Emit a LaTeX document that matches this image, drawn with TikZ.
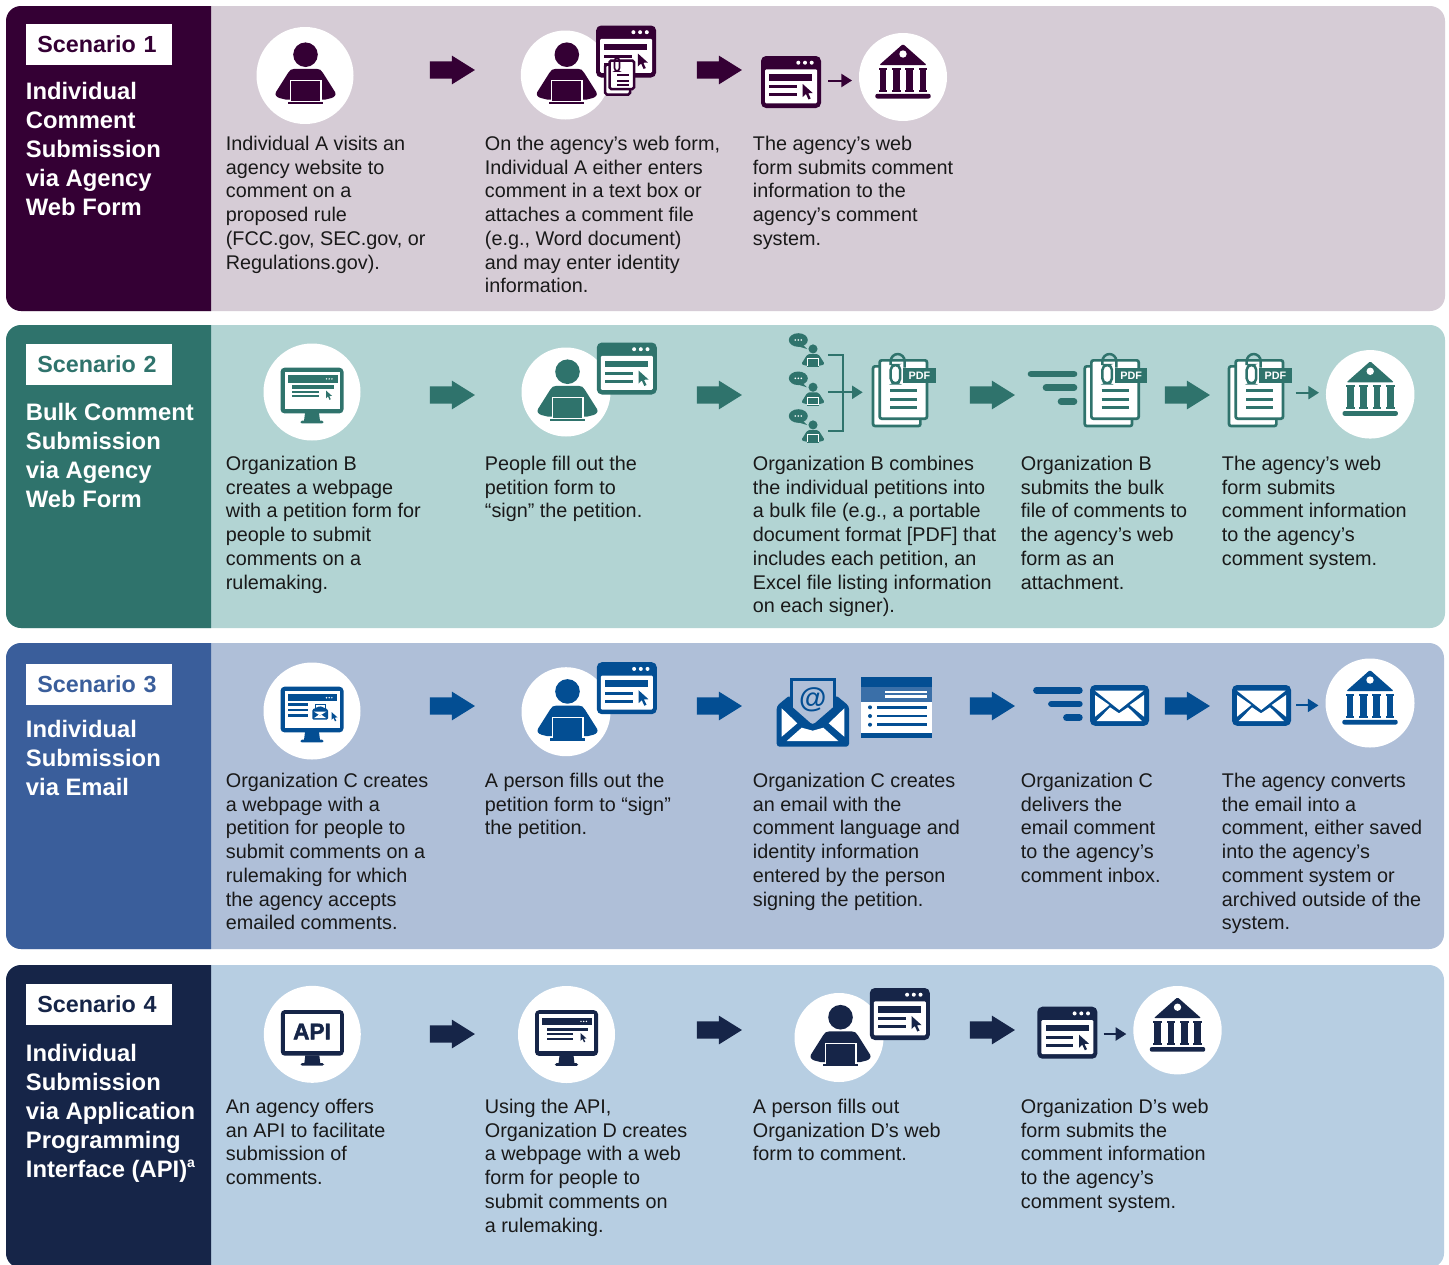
\documentclass[tikz,border=0pt]{standalone}
\usepackage{fontspec}
\setmainfont{Liberation Sans}
\newfontfamily\apifont[BoldFeatures={FakeBold=2}]{Liberation Sans}
\usetikzlibrary{shapes.arrows,arrows.meta,calc}
\definecolor{dA}{HTML}{340034}\definecolor{lA}{HTML}{D6CCD6}
\definecolor{dB}{HTML}{2F736C}\definecolor{lB}{HTML}{B2D4D3}
\definecolor{dC}{HTML}{3A5E9B}\definecolor{iC}{HTML}{034E93}\definecolor{lC}{HTML}{AFBFD8}\definecolor{mC}{HTML}{3A6FA8}
\definecolor{dD}{HTML}{162548}\definecolor{lD}{HTML}{B7CEE2}
\colorlet{ic}{dA}
\tikzset{
 bodytxt/.style={anchor=north west,inner sep=0pt,align=left,font=\fontsize{9.9}{11.87}\selectfont,text=black!90},
 titletxt/.style={anchor=north west,inner sep=0pt,align=left,text=white,font=\fontsize{11.9}{14.5}\selectfont\bfseries},
 labelbox/.style={anchor=west,fill=white,minimum width=73pt,minimum height=20.5pt,inner xsep=5.5pt,inner ysep=0pt,text width=62pt,align=left,font=\fontsize{11.65}{12}\selectfont\bfseries},
 bigarrow/.style={single arrow,fill=ic,inner sep=0pt,text height=8.25pt,text depth=0pt,text width=0pt,minimum height=22.5pt,single arrow head extend=2.875pt,single arrow tip angle=64,single arrow head indent=0pt,xshift=-3.5pt},
 iconbg/.style={circle,fill=white,inner sep=0pt,minimum size={#1*0.5pt}},
 winframe/.style={rectangle,fill=ic,rounded corners=2.5pt,minimum width=30pt,minimum height=26pt,inner sep=0pt},
 envframe/.style={rectangle,fill=ic,rounded corners=2.5pt,minimum width=29.5pt,minimum height=20.4pt,inner sep=0pt},
 pagebox/.style={rectangle,draw=ic,fill=white,line width=1.35pt,rounded corners=1pt,minimum width=23.65pt,minimum height=29.15pt,inner sep=0pt},
 pdftxt/.style={rectangle,fill=ic,text=white,inner sep=0pt,minimum width=16.2pt,minimum height=7.8pt,font=\fontsize{5.4}{6}\selectfont\bfseries},
 smallarrow/.style={draw=ic,line width=1pt,-{Triangle[length=5.3pt,width=6.5pt]}},
 speedln/.style={ic,line width=3.3pt,line cap=round},
}
\newcommand\bodytext[4]{\node[bodytxt] (#1) at (#2-.5,#3-9) {\rule{0pt}{8pt}#4};}
\newcommand\titletext[4]{\node[titletxt] (#1) at (#2-.5,#3-9.5) {\rule{0pt}{9pt}#4};}
\newcommand\cursorat[3]{\fill[ic,shift={(#1,#2)},scale=#3] (0,0)--(0,13)--(3.3,10)--(5.8,15.5)--(8,14.5)--(5.5,9.3)--(10,9)--cycle;}
\newcommand\personic[3][1]{\begin{scope}[shift={(#2,#3)},scale=#1]
 \fill[ic] (0,-21.3) circle (12.3);
 \fill[ic] (-11,-7.2)--(11,-7.2) .. controls (14,-7.2) and (16,-6) .. (17.5,-3)--(29.5,16) .. controls (31,19) and (29,21) .. (26,22)--(20,23.5)--(-20,23.5)--(-26,22) .. controls (-29,21) and (-31,19) .. (-29.5,16)--(-17.5,-3) .. controls (-16,-6) and (-14,-7.2) .. (-11,-7.2)--cycle;
 \filldraw[fill=ic,draw=white,line width={#1*0.7pt}] (-15.3,4.7) rectangle (15.3,26);
 \fill[ic] (-17.5,25.7) rectangle (17.5,27.9);
\end{scope}}
\newcommand\windowic[4]{% name, left, top
 \node[winframe] (#1) at (#2+30,#3+26) {};
 \begin{scope}[shift={(#2,#3)}]
  \fill[white,rounded corners=.6pt] (4,13.3) rectangle (56,47.3);
  \foreach \dx in {37.3,44,50.7} \fill[white] (\dx,6.7) circle (2);
  \fill[ic] (8.3,18) rectangle (51.3,24.7);
  \fill[ic] (8.3,29.3) rectangle (36,32.3);
  \fill[ic] (8.3,37.3) rectangle (36,40.3);
  \cursorat{41.7}{28}{1}
 \end{scope}}
\newcommand\personwin[3]{% name,cx,cy
 \node[iconbg=89] (#1c) at (#2,#3) {};
 \personic{#2+1.5}{#3+1}
 \windowic{#1w}{#2+30.8}{#3-49.5}{}}
\newcommand\bankic[4]{% name,cx,cy,d
 \node[iconbg=#4] (#1) at (#2,#3) {};
 \begin{scope}[shift={(#2,#3)}]
  \fill[ic,rounded corners=.6pt] (0,-33)--(23.7,-12)--(-23.7,-12)--cycle;
  \fill[white] (0,-23) circle (3.7);
  \foreach \cxx in {-20,-6.7,6.7,20} {\fill[ic] (\cxx-3.3,-8)--(\cxx+3.3,-8)--(\cxx+3.3,14)--(\cxx-3.3,14)--cycle;
   \fill[ic] (\cxx-4.3,-9.5) rectangle (\cxx+4.3,-7.5);\fill[ic] (\cxx-4.3,12.5) rectangle (\cxx+4.3,14.5);}
  \fill[ic,rounded corners=1pt] (-27.7,16.8) rectangle (27.7,21.5);
 \end{scope}}
\newcommand\monitorbase[2]{\begin{scope}[shift={(#1,#2)}]
  \fill[ic,rounded corners=2pt] (-31.5,-24.3) rectangle (31.5,21.4);
  \fill[white] (-27.5,-20.3) rectangle (27.5,16.7);
  \fill[ic] (-7,21)--(7,21)--(8,29)--(-8,29)--cycle;
  \fill[ic,rounded corners=.8pt] (-11.7,28.7) rectangle (11.7,31.4);
 \end{scope}}
\newcommand\monitorpage[3]{% name,cx,cy
 \node[iconbg=97] (#1) at (#2,#3) {};
 \monitorbase{#2}{#3}
 \begin{scope}[shift={(#2,#3)}]
  \fill[ic] (-24.5,-16.8) rectangle (25.5,-9.5);
  \foreach \dx in {14.5,17.2,19.9} \fill[white] (\dx,-13.1) circle (.8);
  \fill[ic] (-20,-6.8) rectangle (21.5,-3.5);
  \fill[ic] (-20,-1.5) rectangle (6.5,.5);
  \fill[ic] (-20,3.2) rectangle (6.5,5);
  \cursorat{14}{-1.5}{.6}
 \end{scope}}
\newcommand\envelopeic[3]{% name,x,y
 \node[envframe] (#1) at (#2+29.5,#3+20.4) {};
 \begin{scope}[shift={(#2,#3)}]
  \fill[white] (5,5.7)--(53.5,5.7)--(29.2,25)--cycle;
  \fill[white] (5,10)--(5,31.7)--(19.3,20)--cycle;
  \fill[white] (54,10)--(54,31.7)--(39.7,20)--cycle;
  \fill[white] (6.7,36)--(20,22.3)--(29,28.3)--(38,22.3)--(52,36)--cycle;
 \end{scope}}
\newcommand\speedlines[3]{% right end x, y first, step
 \draw[speedln] (#1-46.3,#2)--(#1-3.3,#2);
 \draw[speedln] (#1-31.3,#2+#3)--(#1-3.3,#2+#3);
 \draw[speedln] (#1-16.3,#2+2*#3)--(#1-3.3,#2+2*#3);}
\newcommand\pdfdoc[3]{% name, back-left, back-top
 \begin{scope}[shift={(#2,#3)}]
  \fill[white,draw=ic,line width=1.35pt,rounded corners=1pt] (1.35,1.35) rectangle (48.65,61);
 \end{scope}
 \node[pagebox] (#1) at (#2+31.6,#3+24.5) {};
 \begin{scope}[shift={(#2,#3)}]
  \draw[ic,line width=1.25pt,rounded corners=2.4pt] (19,0) rectangle (28.5,18.3);
  \draw[ic,line width=1.25pt,rounded corners=3.6pt] (19,0)--(19,-11)--(33,-11)--(33,2.7);
  \foreach \ly in {25.7,34,42.3} \draw[ic,line width=1.5pt] (18.3,\ly)--(45.6,\ly);
 \end{scope}
 \node[pdftxt] (#1p) at (#2+47.8,#3+10.5) {PDF};}
\newcommand\smalllink[4]{% from, to, start shorten, yshift
 \path ([yshift=#4]#1.east) coordinate (tmpl);
 \draw[smallarrow,shorten <=#3,shorten >=3.3pt] (tmpl) -- (tmpl -| #2.west);}
\begin{document}
\begin{tikzpicture}[x=.5pt,y=-.5pt]
\useasboundingbox (0,0) rectangle (1449,1264);
\clip (0,0) rectangle (1449,1264);
\fill[white] (0,0) rectangle (1449,1264);
% panels
\fill[lA,rounded corners=7.5pt] (6,6) rectangle (1445,311);
\fill[lB,rounded corners=7.5pt] (6,325) rectangle (1445,628);
\fill[lC,rounded corners=7.5pt] (6,643) rectangle (1444,949);
\fill[lD,rounded corners=7.5pt] (6,965) rectangle (1444,1268);
\begin{scope}\clip (6,6) rectangle (211,311);\fill[dA,rounded corners=7.5pt] (6,6) rectangle (300,311);\end{scope}
\begin{scope}\clip (6,325) rectangle (211,628);\fill[dB,rounded corners=7.5pt] (6,325) rectangle (300,628);\end{scope}
\begin{scope}\clip (6,643) rectangle (211,949);\fill[dC,rounded corners=7.5pt] (6,643) rectangle (300,949);\end{scope}
\begin{scope}\clip (6,965) rectangle (211,1268);\fill[dD,rounded corners=7.5pt] (6,965) rectangle (300,1268);\end{scope}
% labels
\node[labelbox,text=dA] (sA) at (26,44.5) {Scenario 1};
\node[labelbox,text=dB] (sB) at (26,364.5) {Scenario 2};
\node[labelbox,text=dC] (sC) at (26,684.5) {Scenario 3};
\node[labelbox,text=dD] (sD) at (26,1004.5) {Scenario 4};
\titletext{tA}{26}{91}{Individual\\Comment\\Submission\\via Agency\\Web Form}
\titletext{tB}{26}{412}{Bulk Comment\\Submission\\via Agency\\Web Form}
\titletext{tC}{26}{729}{Individual\\Submission\\via Email}
\titletext{tD}{26}{1053}{Individual\\Submission\\via Application\\Programming\\Interface (API)\raisebox{.42em}{\fontsize{7}{7}\selectfont a}}
% Scenario 1
\colorlet{ic}{dA}
\node[iconbg=97] (a1) at (305,75.5) {};
\personic{305.5}{76}
\node[bigarrow] (ar11) at (452.5,70) {};
\personwin{a2}{565.3}{75}
\begin{scope}[shift={(597,25)}]
 \fill[white,draw=ic,line width=1.25pt,rounded corners=.8pt] (8.2,39.5) rectangle (33,69.5);
 \fill[white,draw=ic,line width=1.25pt,rounded corners=.8pt] (12.5,35.5) rectangle (37,64);
 \draw[ic,line width=.8pt,rounded corners=1.5pt] (17.5,33) rectangle (22.5,46);
 \foreach \ly in {50,55.7,60} \draw[ic,line width=1pt] (20,\ly)--(31.5,\ly);
\end{scope}
\node[bigarrow] (ar12) at (719.5,70) {};
\windowic{a3w}{761}{56}{}
\bankic{a3b}{903}{77}{88}
\smalllink{a3w}{a3b}{3.5pt}{.75pt}
\bodytext{ba1}{226}{143}{Individual A visits an\\agency website to\\comment on a\\proposed rule\\(FCC.gov, SEC.gov, or\\Regulations.gov).}
\bodytext{ba2}{485}{143}{On the agency’s web form,\\Individual A either enters\\comment in a text box or\\attaches a comment file\\(e.g., Word document)\\and may enter identity\\information.}
\bodytext{ba3}{753}{143}{The agency’s web\\form submits comment\\information to the\\agency’s comment\\system.}
% Scenario 2
\colorlet{ic}{dB}
\monitorpage{b1}{312}{392}
\node[bigarrow] (ar21) at (452.5,395) {};
\personwin{b2}{566}{392}
\node[bigarrow] (ar22) at (719.5,395) {};
\foreach \oy in {0,38.3,76} {
 \fill[ic] (798.3,340+\oy) ellipse (9.5 and 6.8);
 \fill[ic] (802,344+\oy)--(807,349+\oy)--(797,346+\oy)--cycle;
 \foreach \dx in {-3,0,3} \fill[white] (798.3+\dx,340+\oy) circle (.9);
 \personic[.37]{813}{356.8+\oy}
}
\coordinate (brA) at (828.3,355);\coordinate (brB) at (842.7,355);\coordinate (brC) at (842.7,430.7);\coordinate (brD) at (828.3,430.7);
\coordinate (brM) at (828.3,392.3);\coordinate (brE) at (862.7,392.3);
\draw[ic,line width=1pt] (brA)--(brB)--(brC)--(brD);
\draw[smallarrow] (brM)--(brE);
\pdfdoc{b3}{871.7}{365}
\node[bigarrow] (ar23) at (992.5,395) {};
\speedlines{1077.3}{374}{13.7}
\pdfdoc{b4}{1083.4}{365}
\node[bigarrow] (ar24) at (1187.5,395) {};
\pdfdoc{b5}{1227.7}{365}
\bankic{b6}{1370.2}{394.3}{88.5}
\smalllink{b5}{b6}{5.7pt}{-1.6pt}
\bodytext{bb1}{226}{463}{Organization B\\creates a webpage\\with a petition form for\\people to submit\\comments on a\\rulemaking.}
\bodytext{bb2}{485}{463}{People fill out the\\petition form to\\“sign” the petition.}
\bodytext{bb3}{753}{463}{Organization B combines\\the individual petitions into\\a bulk file (e.g., a portable\\document format [PDF] that\\includes each petition, an\\Excel file listing information\\on each signer).}
\bodytext{bb4}{1021}{463}{Organization B\\submits the bulk\\file of comments to\\the agency’s web\\form as an\\attachment.}
\bodytext{bb5}{1222}{463}{The agency’s web\\form submits\\comment information\\to the agency’s\\comment system.}
% Scenario 3
\colorlet{ic}{iC}
\node[iconbg=97] (c1) at (312,711) {};
\monitorbase{312}{711}
\begin{scope}[shift={(312,711)}]
 \fill[ic] (-24.3,-16.7) rectangle (25.3,-10);
 \foreach \dx in {14.5,17.2,19.9} \fill[white] (\dx,-13.3) circle (.8);
 \fill[ic] (-24.3,-7.7) rectangle (-3.7,-5);
 \fill[ic] (-24.3,-2.3) rectangle (-3.7,0);
 \fill[ic] (-24.3,3) rectangle (-3.7,5.7);
 \draw[ic,line width=.5pt,fill=white] (3,-6.7) rectangle (13,2);
 \fill[ic,rounded corners=.6pt] (.3,-1.5)--(8,-5)--(16,-1.5)--(16,8.5)--(.3,8.5)--cycle;
 \fill[white] (1.8,.5)--(14.5,.5)--(8,4.5)--cycle;
 \fill[white] (2.2,7)--(6.8,3.8)--(8,4.8)--(9.4,3.8)--(14,7)--cycle;
 \cursorat{19.5}{1}{.6}
\end{scope}
\node[bigarrow] (ar31) at (452.5,706) {};
\personwin{c2}{566}{711.7}
\node[bigarrow] (ar32) at (719.5,706) {};
% open envelope with at-sign
\draw[ic,line width=1.5pt] (791.5,708)--(791.5,679)--(834.2,679)--(834.2,708);
\node[text=ic,inner sep=0pt,font=\fontsize{14}{14}\selectfont\bfseries] (c3at) at (812.7,699.5) {@};
\fill[ic,rounded corners=1.5pt] (776.7,706)--(790,695)--(790,705)--(812.7,725)--(835.7,705)--(835.7,695)--(849,706)--(849,746.7)--(776.7,746.7)--cycle;
\fill[white] (781.7,708.3)--(781.7,736.7)--(797.3,723.3)--cycle;
\fill[white] (844.3,708.3)--(844.3,736.7)--(828.7,723.3)--cycle;
\fill[white] (786.7,741)--(801.7,727.7)--(812.7,730.7)--(823.3,727.7)--(838.3,741)--cycle;
% form
\fill[white] (860.7,701.7) rectangle (931.7,732.7);
\fill[ic] (860.7,676.7) rectangle (931.7,686.7);
\fill[mC] (860.7,686.7) rectangle (931.7,701.7);
\fill[ic] (860.7,732.7) rectangle (931.7,737.7);
\fill[white] (885,690.5) rectangle (926.7,693);
\fill[white] (885,695) rectangle (926.7,697.5);
\foreach \ly in {707.3,716,724.7} {\fill[ic] (870,\ly) circle (2);\fill[ic] (877.3,\ly-1.3) rectangle (926.7,\ly+1.3);}
\node[bigarrow] (ar33) at (992.5,706) {};
\speedlines{1082.7}{690.3}{13.7}
\envelopeic{c4}{1090}{685}
\node[bigarrow] (ar34) at (1187.5,706) {};
\envelopeic{c5}{1232}{685}
\bankic{c6}{1370}{703}{89}
\smalllink{c5}{c6}{2.5pt}{0pt}
\bodytext{bc1}{226}{780}{Organization C creates\\a webpage with a\\petition for people to\\submit comments on a\\rulemaking for which\\the agency accepts\\emailed comments.}
\bodytext{bc2}{485}{780}{A person fills out the\\petition form to “sign”\\the petition.}
\bodytext{bc3}{753}{780}{Organization C creates\\an email with the\\comment language and\\identity information\\entered by the person\\signing the petition.}
\bodytext{bc4}{1021}{780}{Organization C\\delivers the\\email comment\\to the agency’s\\comment inbox.}
\bodytext{bc5}{1222}{780}{The agency converts\\the email into a\\comment, either saved\\into the agency’s\\comment system or\\archived outside of the\\system.}
% Scenario 4
\colorlet{ic}{dD}
\node[iconbg=97] (d1) at (312.3,1034.3) {};
\monitorbase{312.3}{1034.3}
\node[text=ic,inner sep=0pt,font=\apifont\fontsize{11.3}{12}\selectfont\bfseries] (d1t) at (312,1031.5) {API};
\node[bigarrow] (ar41) at (452.5,1034) {};
\monitorpage{d2}{566.5}{1034.5}
\node[bigarrow] (ar42) at (719.5,1030) {};
\personwin{d3}{839}{1037.5}
\node[bigarrow] (ar43) at (992.5,1030) {};
\windowic{d4w}{1037.3}{1006.7}{}
\bankic{d4b}{1177.5}{1030.2}{88.4}
\smalllink{d4w}{d4b}{3pt}{-.65pt}
\bodytext{bd1}{226}{1106}{An agency offers\\an API to facilitate\\submission of\\comments.}
\bodytext{bd2}{485}{1106}{Using the API,\\Organization D creates\\a webpage with a web\\form for people to\\submit comments on\\a rulemaking.}
\bodytext{bd3}{753}{1106}{A person fills out\\Organization D’s web\\form to comment.}
\bodytext{bd4}{1021}{1106}{Organization D’s web\\form submits the\\comment information\\to the agency’s\\comment system.}
\end{tikzpicture}
\end{document}
